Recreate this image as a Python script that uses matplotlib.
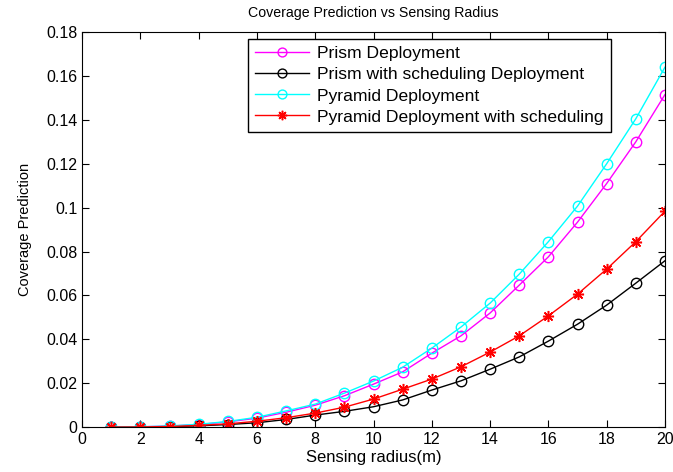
import matplotlib.pyplot as plt
import numpy as np

plt.rcParams['font.family'] = ['Liberation Sans', 'DejaVu Sans']

radius = np.arange(1, 21)
prism = [0.00002, 0.00015, 0.0005, 0.0012, 0.0024, 0.0041, 0.0068, 0.0100, 0.0143, 0.0196,
         0.0252, 0.0337, 0.0416, 0.0520, 0.0647, 0.0776, 0.0934, 0.1110, 0.1300, 0.1515]
prism_sched = [0.00001, 0.00008, 0.00026, 0.0006, 0.0012, 0.0020, 0.0035, 0.0055, 0.0072, 0.0093,
               0.0124, 0.0169, 0.0211, 0.0264, 0.0320, 0.0392, 0.0469, 0.0556, 0.0656, 0.0758]
pyramid = [0.00002, 0.00016, 0.00055, 0.0013, 0.0026, 0.0045, 0.0074, 0.0105, 0.0155, 0.0210,
           0.0273, 0.0360, 0.0456, 0.0565, 0.0697, 0.0845, 0.1007, 0.1200, 0.1405, 0.1640]
pyramid_sched = [0.00001, 0.0001, 0.0003, 0.0008, 0.0015, 0.0027, 0.0043, 0.0064, 0.0091, 0.0128,
                 0.0173, 0.0219, 0.0275, 0.0342, 0.0416, 0.0507, 0.0606, 0.0720, 0.0845, 0.0984]

fig = plt.figure(figsize=(6.73, 4.72), dpi=100)
ax = fig.add_axes([0.122, 0.095, 0.866, 0.837])

ax.plot(radius, prism, '-o', color='magenta', mfc='none', ms=7.5, lw=1, label='Prism Deployment')
ax.plot(radius, prism_sched, '-o', color='black', mfc='none', ms=7.5, lw=1, label='Prism with scheduling Deployment')
ax.plot(radius, pyramid, '-o', color='cyan', mfc='none', ms=7.5, lw=1, label='Pyramid Deployment')
ax.plot(radius, pyramid_sched, '-', color='red', marker=(8, 2, 0), ms=8, mew=1.1, lw=1,
        label='Pyramid Deployment with scheduling')

ax.set_xlim(0, 20)
ax.set_ylim(0, 0.18)
ax.set_xticks(np.arange(0, 21, 2))
ax.set_yticks(np.arange(0, 0.181, 0.02))
ax.set_yticklabels(['0', '0.02', '0.04', '0.06', '0.08', '0.1', '0.12', '0.14', '0.16', '0.18'])
ax.tick_params(direction='in', top=True, right=True, labelsize=11.5, length=5)

ax.set_xlabel('Sensing radius(m)', fontsize=12, labelpad=2)
ax.set_ylabel('Coverage Prediction', fontsize=10.5, labelpad=10)
ax.set_title('Coverage Prediction vs Sensing Radius', fontsize=10.2, pad=11)

leg = ax.legend(loc='upper left', bbox_to_anchor=(0.285, 0.982), borderaxespad=0,
                fontsize=12.6, fancybox=False, edgecolor='black', framealpha=1,
                handlelength=3.1, handletextpad=0.45, labelspacing=0.33, borderpad=0.4,
                markerscale=0.85)
leg.get_frame().set_linewidth(1)

plt.savefig('out.png', dpi=100)
